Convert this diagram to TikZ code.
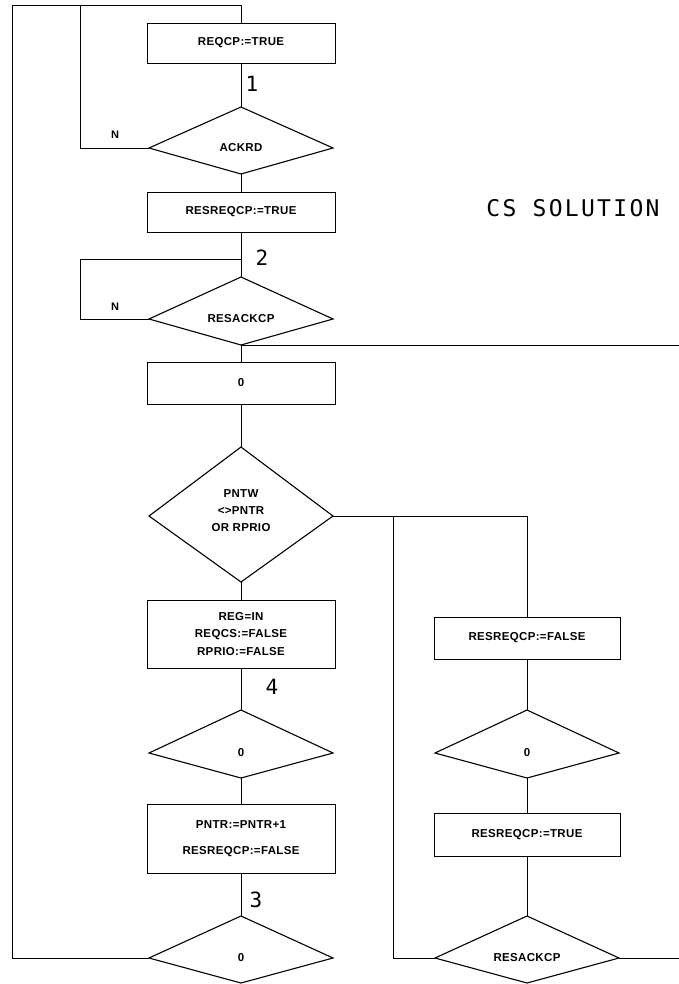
\documentclass[tikz,border=0pt]{standalone}
\usepackage{fontspec}
\newfontfamily\plotfont[LetterSpace=3]{Liberation Sans}
\newfontfamily\stickfont[LetterSpace=10]{DejaVu Sans Mono}

% decision kite: [text options], name, centre, rise, drop, text
\newcommand{\kite}[6][]{%
  \node[kitetext,#1] (#2) at (#3) {#6};
  \draw[kiteline] (#3) ++(-92,0) coordinate (#2-w) -- ++(92,-#4) coordinate (#2-n)
    -- ++(92,#4) coordinate (#2-e) -- ++(-92,#5) coordinate (#2-s) -- cycle;}

\begin{document}
\begin{tikzpicture}[x=1pt,y=-1pt,line width=0.8pt,
    box/.style={draw,minimum width=188pt,minimum height=40pt,inner sep=0pt,align=center,
      font=\plotfont\bfseries\fontsize{11.5}{17.5}\selectfont},
    kitetext/.style={inner sep=0pt,align=center,font=\plotfont\bfseries\fontsize{11.5}{17}\selectfont},
    kiteline/.style={line width=1.1pt,line join=miter},
    branch/.style={font=\plotfont\bfseries\fontsize{11}{11}\selectfont},
    tag/.style={font=\stickfont\fontsize{21}{21}\selectfont},
    heading/.style={font=\stickfont\fontsize{23}{23}\selectfont}]
    \useasboundingbox (0,0) rectangle (679,984);

    % main column
    \node[box] (reqcp) at (241,43) {REQCP:=TRUE};
    \kite{ackrd}{241,148}{41}{26}{ACKRD}
    \node[box] (resreq) at (241,212) {RESREQCP:=TRUE};
    \kite{resack}{241,319}{42}{26}{RESACKCP}
    \node[box,minimum height=42pt] (zero) at (241,383) {0};
    \kite[yshift=5pt]{pntw}{241,516}{69}{66}{PNTW\\<>PNTR\\OR RPRIO}
    \node[box,minimum height=68pt] (reg) at (241,634) {REG=IN\\REQCS:=FALSE\\RPRIO:=FALSE};
    \kite{kfour}{241,753}{43}{25}{0}
    \node[box,minimum height=69pt] (pntr) at (241,838.5) {PNTR:=PNTR+1\\[8pt]RESREQCP:=FALSE};
    \kite{kthree}{241,958}{42}{25}{0}

    % right column
    \node[box,minimum width=186pt,minimum height=42pt] (rfalse) at (527,638) {RESREQCP:=FALSE};
    \kite{rzero}{527,753}{43}{25}{0}
    \node[box,minimum width=186pt,minimum height=43pt] (rtrue) at (527,834.5) {RESREQCP:=TRUE};
    \kite{rack}{527,958}{42}{25}{RESACKCP}

    \coordinate (top) at (241,5);
    \coordinate (loopa) at (80,5);
    \coordinate (loopb) at (12,5);
    \coordinate (joinb) at (241,259);
    \coordinate (loopc) at (80,259);
    \coordinate (split) at (393,516);
    \coordinate (edgea) at (679,345);
    \coordinate (edgeb) at (679,958);

    \draw (reqcp) -- (ackrd-n);
    \draw (ackrd-s) -- (resreq);
    \draw (resreq) -- (resack-n);
    \draw (resack-s) -- (zero);
    \draw (zero) -- (pntw-n);
    \draw (pntw-s) -- (reg);
    \draw (reg) -- (kfour-n);
    \draw (kfour-s) -- (pntr);
    \draw (pntr) -- (kthree-n);

    \draw (ackrd-w) -| (loopa) -- (top) -- (reqcp);
    \draw (kthree-w) -| (loopb) -- (loopa);
    \draw (resack-w) -| (loopc) -- (joinb);
    \draw (resack-s) -- (edgea);

    \draw (pntw-e) -- (pntw-e -| rfalse) -- (rfalse);
    \draw (rack-w) -| (split);
    \draw (rfalse) -- (rzero-n);
    \draw (rzero-s) -- (rtrue);
    \draw (rtrue) -- (rack-n);
    \draw (rack-e) -- (edgeb);

    \node[branch] (na) at (115,135) {N};
    \node[branch] (nb) at (115,307) {N};
    \node[tag] (one) at (252,84) {1};
    \node[tag] (two) at (262,258) {2};
    \node[tag] (four) at (272,687) {4};
    \node[tag] (three) at (256,900) {3};
    \node[heading] (title) at (573,208) {CS SOLUTION};
\end{tikzpicture}
\end{document}
